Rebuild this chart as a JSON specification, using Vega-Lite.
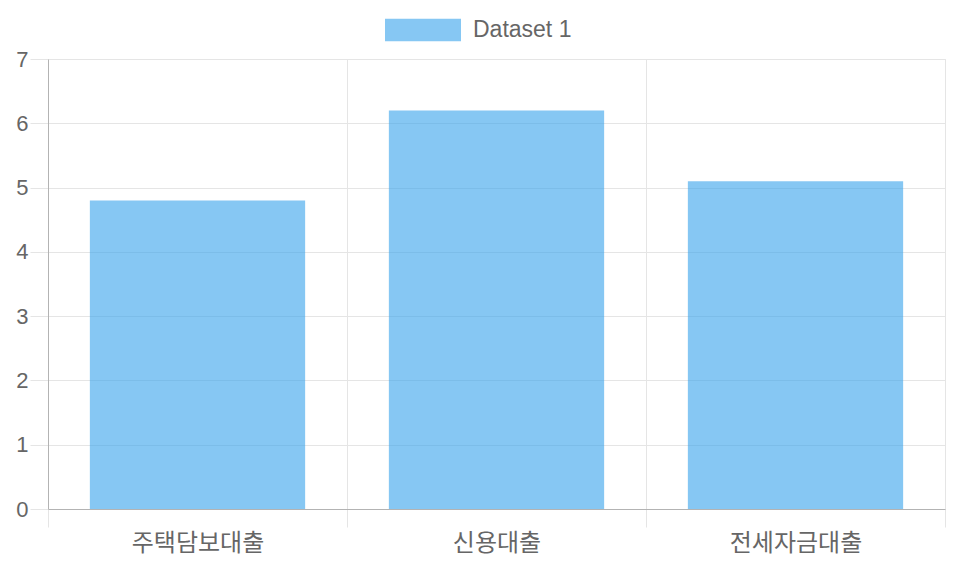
{
  "$schema": "https://vega.github.io/schema/vega-lite/v6.json",
  "width": 897,
  "height": 450,
  "autosize": {"type": "none"},
  "padding": {"left": 48, "top": 59, "right": 11, "bottom": 55},
  "background": "white",
  "data": {
    "values": [
      {"category": "주택담보대출", "value": 4.8, "series": "Dataset 1"},
      {"category": "신용대출", "value": 6.2, "series": "Dataset 1"},
      {"category": "전세자금대출", "value": 5.1, "series": "Dataset 1"}
    ]
  },
  "mark": {"type": "bar", "width": {"band": 0.72}, "fillOpacity": 0.6},
  "encoding": {
    "x": {
      "field": "category",
      "type": "nominal",
      "sort": null,
      "scale": {"paddingInner": 0, "paddingOuter": 0},
      "axis": {
        "title": null,
        "labelAngle": 0,
        "tickBand": "extent",
        "tickSize": 18,
        "tickColor": "#e5e5e5",
        "grid": true,
        "gridColor": "#e5e5e5",
        "domainColor": "#b3b3b3",
        "labelFont": "Liberation Sans, Noto Sans CJK KR",
        "labelFontSize": 24,
        "labelColor": "#666666",
        "labelPadding": 4,
        "zindex": 0
      }
    },
    "y": {
      "field": "value",
      "type": "quantitative",
      "scale": {"domain": [0, 7], "nice": false},
      "axis": {
        "title": null,
        "values": [0, 1, 2, 3, 4, 5, 6, 7],
        "tickSize": 18,
        "tickColor": "#e5e5e5",
        "gridColor": "#e5e5e5",
        "domainColor": "#b3b3b3",
        "labelFont": "Liberation Sans",
        "labelFontSize": 22,
        "labelColor": "#666666",
        "labelPadding": 2,
        "zindex": 0
      }
    },
    "color": {
      "field": "series",
      "type": "nominal",
      "scale": {"range": ["#36A2EB"]},
      "legend": {
        "title": null,
        "orient": "none",
        "legendX": 337,
        "legendY": -67,
        "symbolType": "M-1,-0.295H1V0.295H-1Z",
        "symbolSize": 5776,
        "symbolStrokeWidth": 0,
        "symbolOpacity": 0.6,
        "labelFont": "Liberation Sans",
        "labelFontSize": 23,
        "labelColor": "#666666",
        "labelOffset": 12
      }
    }
  },
  "config": {
    "view": {"stroke": "#e5e5e5"},
    "axis": {"gridWidth": 1, "domainWidth": 1}
  }
}
